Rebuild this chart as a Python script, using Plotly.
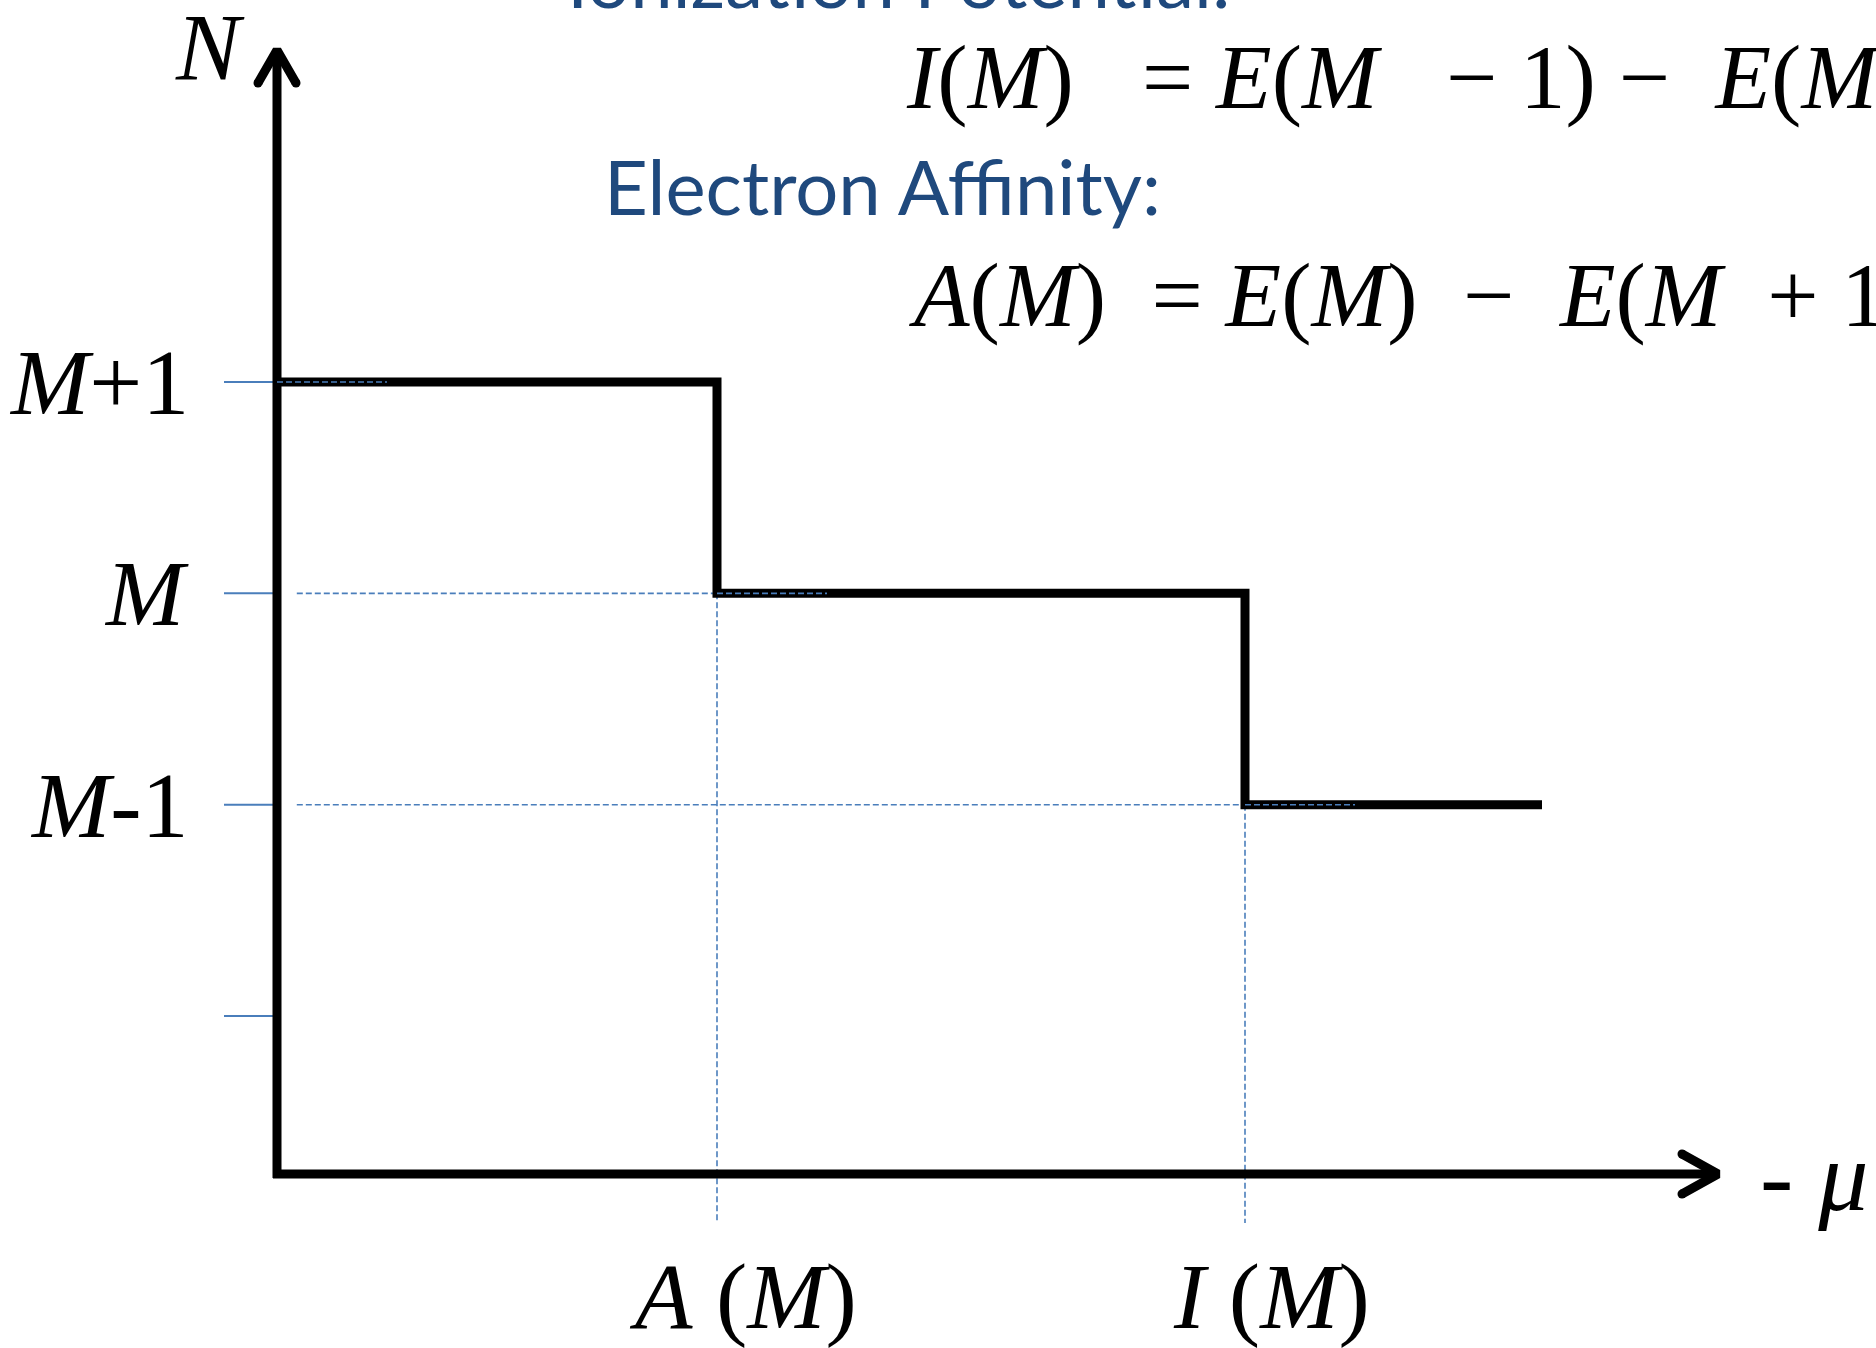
import plotly.graph_objects as go

# ---- data ---------------------------------------------------------------
# particle-number levels on the N axis (the lowest tick carries no label)
n_levels = [1, 2, 3, 4]
n_labels = ["", "<i>M</i>-1", "<i>M</i>", "<i>M</i>+1"]

# thresholds on the -μ axis: electron affinity and ionization potential
threshold_mu = [2.0, 4.4]
threshold_labels = ["<i>A</i> (<i>M</i>)", "<i>I</i> (<i>M</i>)"]

# staircase N(-μ), one plateau per integer electron number
plateau_start = [0.0, 2.0, 4.4]
plateau_end = [2.0, 4.4, 5.75]
plateau_level = [4, 3, 2]

# axis extents in data units
N_AXIS = 0.2524      # height where the -μ axis runs
N_TOP = 5.571        # tip of the N arrow
MU_TIP = 6.55        # tip of the -μ arrow
GUIDE_BOTTOM = 0.02  # lower end of the vertical guide lines
GUIDE_START = [0.0, 0.09, 0.09]
GUIDE_OVERHANG = 0.5

# ---- canvas / scale -----------------------------------------------------
W, H = 1876, 1348
ORIGIN_X, ORIGIN_Y = 277, 1174
PX_MU = 220.0
PX_N = 211.33

BLACK = "#000000"
BLUE = "#4A7EBB"
TITLE_BLUE = "#1F497D"
SERIF = "Liberation Serif, Times New Roman, serif"
SANS = "Lato, Calibri, sans-serif"
STROKE = 9

x_range = [-ORIGIN_X / PX_MU, (W - ORIGIN_X) / PX_MU]
y_range = [N_AXIS - (H - ORIGIN_Y) / PX_N, N_AXIS + ORIGIN_Y / PX_N]

fig = go.Figure()


def line(xs, ys, color, width, dash="solid"):
    fig.add_trace(go.Scatter(
        x=xs, y=ys, mode="lines", hoverinfo="skip",
        line=dict(color=color, width=width, dash=dash),
    ))


# short tick marks left of the N axis
tick_len = 53 / PX_MU
for lvl in n_levels:
    line([-tick_len, 0], [lvl, lvl], BLUE, 2)

# vertical guides dropping from each step down past the -μ axis
for mu, lvl in zip(plateau_start[1:], plateau_level[1:]):
    line([mu, mu], [lvl, GUIDE_BOTTOM], BLUE, 1.6, "6px,3px")

# horizontal guides from the N axis to the lower plateaus
for start, lvl in zip(GUIDE_START[1:], plateau_level[1:]):
    line([start, plateau_start[plateau_level.index(lvl)]], [lvl, lvl], BLUE, 1.6, "6px,3px")

# the staircase itself
step_x, step_y = [], []
for s, e, lvl in zip(plateau_start, plateau_end, plateau_level):
    step_x += [s, e]
    step_y += [lvl, lvl]
line(step_x, step_y, BLACK, STROKE)

# axes
line([0, 0], [N_AXIS - 4 / PX_N, N_TOP], BLACK, STROKE)
line([-4 / PX_MU, MU_TIP], [N_AXIS, N_AXIS], BLACK, STROKE)

# open arrowheads with rounded ends
arms = [
    ([-19 / PX_MU, 0, 19 / PX_MU], [N_TOP - 33 / PX_N, N_TOP, N_TOP - 33 / PX_N]),
    ([MU_TIP - 36 / PX_MU, MU_TIP, MU_TIP - 36 / PX_MU],
     [N_AXIS + 20 / PX_N, N_AXIS, N_AXIS - 20 / PX_N]),
]
for xs, ys in arms:
    line(xs, ys, BLACK, STROKE)
    fig.add_trace(go.Scatter(
        x=[xs[0], xs[2]], y=[ys[0], ys[2]], mode="markers", hoverinfo="skip",
        marker=dict(color=BLACK, size=STROKE, line=dict(width=0)),
    ))

# dashes continuing a short way along every plateau, on top of the black line
for start, lvl, p0 in zip(GUIDE_START, plateau_level, plateau_start):
    x0 = start if p0 == 0 else p0
    line([x0, p0 + GUIDE_OVERHANG], [lvl, lvl], BLUE, 1.6, "6px,3px")

# ---- text ---------------------------------------------------------------
ann = []
for lvl, lab in zip(n_levels, n_labels):
    if lab:
        ann.append(dict(x=0, y=lvl, text=lab, xanchor="right", yanchor="middle",
                        xshift=-86, font=dict(family=SERIF, size=94, color=BLACK)))

ann.append(dict(x=0, y=N_TOP, text="<i>N</i>", xanchor="center", yanchor="middle",
                xshift=-67, yshift=3, font=dict(family=SERIF, size=96, color=BLACK)))

for mu, lab in zip(threshold_mu, threshold_labels):
    ann.append(dict(x=mu, y=N_AXIS, text=lab, xanchor="center", yanchor="middle",
                    xshift=26, yshift=-122, font=dict(family=SERIF, size=94, color=BLACK)))

ann.append(dict(x=MU_TIP, y=N_AXIS, text="- <i>μ</i>", xanchor="left", yanchor="middle",
                xshift=40, yshift=-2, font=dict(family=SERIF, size=100, color=BLACK)))

NB = "\u00a0"
eq_ip = ("<i>I</i>(<i>M</i>)" + NB * 3 + "=" + NB + "<i>E</i>(<i>M</i>" + NB * 3 + "−"
         + NB + "1)" + NB + "−" + NB * 2 + "<i>E</i>(<i>M</i>)")
eq_ea = ("<i>A</i>(<i>M</i>)" + NB * 2 + "=" + NB + "<i>E</i>(<i>M</i>)" + NB * 2 + "−"
         + NB * 2 + "<i>E</i>(<i>M</i>" + NB * 2 + "+" + NB + "1)")

headers = [
    ("Ionization Potential:", 565, -21, SANS, 76, TITLE_BLUE),
    ("Electron Affinity:", 602, 186, SANS, 76, TITLE_BLUE),
    (eq_ip, 904, 77, SERIF, 91, BLACK),
    (eq_ea, 907, 295, SERIF, 91, BLACK),
]
for text, px, py, fam, size, col in headers:
    ann.append(dict(x=px / W, y=1 - py / H, xref="paper", yref="paper", text=text,
                    xanchor="left", yanchor="middle",
                    font=dict(family=fam, size=size, color=col)))

for a in ann:
    a.setdefault("xref", "x")
    a.setdefault("yref", "y")
    a["showarrow"] = False

fig.update_layout(
    width=W, height=H,
    margin=dict(l=0, r=0, t=0, b=0),
    paper_bgcolor="white", plot_bgcolor="white",
    showlegend=False,
    xaxis=dict(visible=False, range=x_range, fixedrange=True),
    yaxis=dict(visible=False, range=y_range, fixedrange=True),
    annotations=ann,
)

fig.write_html("out.html")
